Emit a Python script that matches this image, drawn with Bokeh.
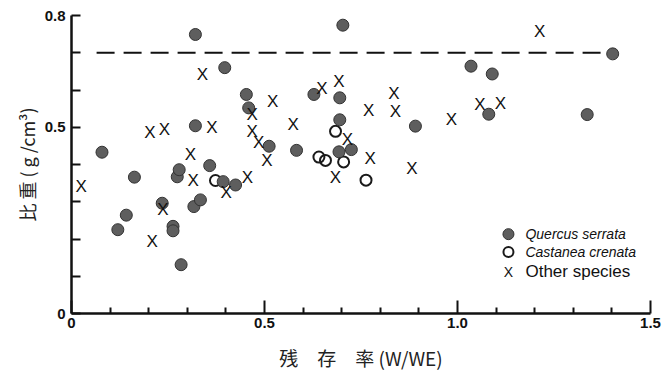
from bokeh.plotting import figure
from bokeh.models import FixedTicker, Label, Range1d, Title
from bokeh.core.properties import value
from bokeh.embed import file_html
from bokeh.resources import INLINE

# ---- data ----
quercus_x = [0.079, 0.120, 0.142, 0.163, 0.235, 0.263, 0.263, 0.274, 0.279, 0.284,
             0.317, 0.334, 0.321, 0.321, 0.358, 0.393, 0.425, 0.397, 0.453, 0.459,
             0.512, 0.583, 0.628, 0.695, 0.695, 0.693, 0.725, 0.703, 0.891, 1.035,
             1.090, 1.081, 1.336, 1.402]
quercus_y = [0.433, 0.225, 0.264, 0.366, 0.296, 0.234, 0.222, 0.367, 0.386, 0.131,
             0.287, 0.305, 0.749, 0.504, 0.397, 0.354, 0.345, 0.660, 0.588, 0.552,
             0.449, 0.438, 0.588, 0.579, 0.520, 0.434, 0.440, 0.774, 0.503, 0.664,
             0.643, 0.535, 0.534, 0.697]

castanea_x = [0.373, 0.641, 0.658, 0.684, 0.705, 0.763]
castanea_y = [0.357, 0.420, 0.411, 0.489, 0.407, 0.358]

other_x = [0.025, 0.203, 0.241, 0.209, 0.237, 0.308, 0.315, 0.339, 0.364, 0.401,
           0.456, 0.468, 0.468, 0.485, 0.506, 0.521, 0.574, 0.649, 0.693, 0.715,
           0.684, 0.770, 0.774, 0.835, 0.839, 0.882, 0.984, 1.058, 1.111, 1.213]
other_y = [0.341, 0.486, 0.495, 0.193, 0.280, 0.428, 0.358, 0.642, 0.498, 0.324,
           0.366, 0.534, 0.489, 0.460, 0.412, 0.569, 0.507, 0.603, 0.622, 0.466,
           0.365, 0.546, 0.417, 0.590, 0.543, 0.390, 0.520, 0.561, 0.563, 0.756]

ref_line_x = [0.065, 1.400]
ref_line_y = [0.70, 0.70]

x_ticks = [0, 0.5, 1.0, 1.5]
x_tick_labels = ["0", "0.5", "1.0", "1.5"]
x_minor = [0.1, 0.2, 0.3, 0.4, 0.6, 0.7, 0.8, 0.9, 1.1, 1.2, 1.3, 1.4]
y_ticks = [0, 0.5, 0.8]
y_tick_labels = ["0", "0.5", "0.8"]
y_minor = [0.1, 0.2, 0.3, 0.4, 0.6, 0.7]

legend_labels = ["Quercus serrata", "Castanea crenata", "Other species"]
y_title = "比 重 ( g /cm³)"
x_title = "残　存　率 (W/WE)"

# ---- figure ----
p = figure(frame_width=579, frame_height=298,
           x_range=Range1d(0, 1.5), y_range=Range1d(0, 0.8),
           output_backend="svg", toolbar_location=None,
           min_border_left=71, min_border_right=16,
           min_border_top=15, min_border_bottom=61)
p.outline_line_color = None
p.grid.visible = False
p.background_fill_color = "white"
p.border_fill_color = "white"

for ax in (p.xaxis[0], p.yaxis[0]):
    ax.axis_line_width = 2.5
    ax.axis_line_color = "#111111"
    ax.major_tick_out = 0
    ax.minor_tick_out = 0
    ax.major_tick_line_width = 2
    ax.minor_tick_line_width = 2
    ax.major_tick_line_color = "#111111"
    ax.minor_tick_line_color = "#111111"
    ax.major_label_text_font = "Liberation Sans"
    ax.major_label_text_font_size = "15px"
    ax.major_label_text_font_style = "bold"
    ax.major_label_text_color = "#111111"
    ax.axis_label_text_font = "Noto Sans CJK JP"
    ax.axis_label_text_font_size = "19px"
    ax.axis_label_text_font_style = "normal"
    ax.axis_label_text_color = "#222222"

p.xaxis.ticker = FixedTicker(ticks=x_ticks, minor_ticks=x_minor)
p.xaxis.major_label_overrides = dict(zip(x_ticks, x_tick_labels))
p.xaxis.major_tick_in = 13
p.xaxis.minor_tick_in = 6
p.xaxis.major_label_standoff = 4
p.xaxis.axis_label = x_title
p.xaxis.axis_label_standoff = 13

p.yaxis.ticker = FixedTicker(ticks=y_ticks, minor_ticks=y_minor)
p.yaxis.major_label_overrides = dict(zip(y_ticks, y_tick_labels))
p.yaxis.major_tick_in = 9
p.yaxis.minor_tick_in = 9
p.yaxis.major_label_standoff = 6

# y title as a side title so that it can be shifted upward like the reference
p.add_layout(Title(text=y_title, align="center", offset=20, standoff=4,
                   text_font="Noto Sans CJK JP", text_font_size="18px",
                   text_font_style="normal", text_color="#222222"), "left")

# reference dashed line
p.line(ref_line_x, ref_line_y, line_color="#111111", line_width=2, line_dash="18 9")

# data
p.scatter(castanea_x, castanea_y, marker="circle", size=11,
          fill_color=None, line_color="#1a1a1a", line_width=2)
p.scatter(quercus_x, quercus_y, marker="circle", size=12,
          fill_color="#5e5e5e", line_color="#333333", line_width=1)
p.text(other_x, other_y, text=value("X"), text_font=value("Liberation Sans"),
       text_font_size="17px", text_color="#111111",
       text_align="center", text_baseline="middle")

# legend (manual, so that two labels can be italic)
leg_mx = 1.132
leg_tx = 1.176
leg_y = [0.213, 0.165, 0.112]
p.scatter([leg_mx], [leg_y[0]], marker="circle", size=11,
          fill_color="#5e5e5e", line_color="#333333", line_width=1)
p.scatter([leg_mx], [leg_y[1]], marker="circle", size=10,
          fill_color=None, line_color="#1a1a1a", line_width=2)
p.add_layout(Label(x=leg_mx, y=leg_y[2], text="X", text_font="Liberation Sans",
                   text_font_size="14px", text_color="#111111",
                   text_align="center", text_baseline="middle"))
for i, lab in enumerate(legend_labels):
    italic = i < 2
    p.add_layout(Label(x=leg_tx, y=leg_y[i], text=lab, text_font="Liberation Sans",
                       text_font_size="14px" if italic else "17px",
                       text_font_style="italic" if italic else "normal",
                       text_color="#111111", text_align="left", text_baseline="middle"))

open("out.html", "w").write(file_html(p, INLINE))
